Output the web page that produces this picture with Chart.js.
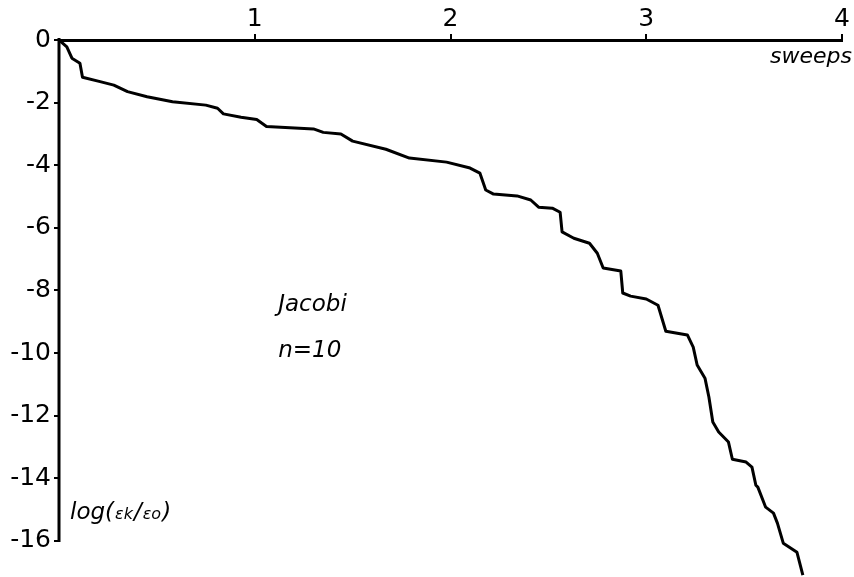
<!DOCTYPE html>
<html>
<head>
<meta charset="utf-8">
<script src="https://cdn.jsdelivr.net/npm/chart.js@4.4.1/dist/chart.umd.min.js"></script>
<style>
  html, body { margin: 0; padding: 0; background: #fff; }
  #wrap { width: 854px; height: 577px; }
</style>
</head>
<body>
<div id="wrap"><canvas id="jacobiChart"></canvas></div>
<script>
// Jacobi convergence, n = 10: log of relative error against sweeps
const sweeps = [
    0, 0.04, 0.066, 0.107, 0.12, 0.21, 0.28, 0.35, 0.45, 0.58,
    0.75, 0.81, 0.84, 0.93, 1.01, 1.06, 1.30, 1.35, 1.44, 1.50,
    1.67, 1.79, 1.98, 2.10, 2.15, 2.18, 2.22, 2.34, 2.41, 2.45,
    2.52, 2.56, 2.57, 2.63, 2.71, 2.75, 2.78, 2.87, 2.88, 2.92,
    3.00, 3.06, 3.10, 3.21, 3.24, 3.26, 3.30, 3.32, 3.34, 3.37,
    3.42, 3.44, 3.51, 3.54, 3.56, 3.57, 3.61, 3.65, 3.67, 3.70,
    3.77, 3.80
];
const logErr = [
    0, -0.22, -0.58, -0.74, -1.19, -1.33, -1.44, -1.65, -1.81, -1.97,
    -2.08, -2.18, -2.36, -2.47, -2.54, -2.76, -2.84, -2.95, -3.00, -3.23,
    -3.49, -3.77, -3.90, -4.09, -4.25, -4.79, -4.92, -4.98, -5.11, -5.34,
    -5.37, -5.50, -6.13, -6.33, -6.49, -6.81, -7.28, -7.38, -8.08, -8.18,
    -8.27, -8.47, -9.30, -9.42, -9.81, -10.38, -10.80, -11.40, -12.20, -12.52,
    -12.84, -13.39, -13.48, -13.64, -14.22, -14.28, -14.92, -15.11, -15.43, -16.07,
    -16.36, -17.09
];
const xTicks = [1, 2, 3, 4];
const yTicks = [0, -2, -4, -6, -8, -10, -12, -14, -16];

const FONT = "'DejaVu Sans', sans-serif";

// axis line on the left only runs over the labelled range, plus the text labels
const decorations = {
    id: 'decorations',
    afterDraw(chart) {
        const { ctx, chartArea, scales: { x, y } } = chart;
        ctx.save();
        ctx.strokeStyle = '#000';
        ctx.lineWidth = 3;
        ctx.beginPath();
        ctx.moveTo(chartArea.left, y.getPixelForValue(yTicks[0]) - 2);
        ctx.lineTo(chartArea.left, y.getPixelForValue(yTicks[yTicks.length - 1]) + 1);
        ctx.stroke();

        ctx.fillStyle = '#000';
        ctx.textBaseline = 'alphabetic';

        // x axis title
        ctx.font = `italic 22px ${FONT}`;
        ctx.textAlign = 'right';
        ctx.fillText('sweeps', chartArea.right + 10, y.getPixelForValue(0) + 23);

        // notes in the plot
        ctx.font = `italic 23px ${FONT}`;
        ctx.textAlign = 'left';
        ctx.fillText('Jacobi', x.getPixelForValue(1.12), y.getPixelForValue(-8.66));
        ctx.fillText('n=10', x.getPixelForValue(1.12), y.getPixelForValue(-10.13));

        // y axis title: log(εk/εo) with small subscripts
        let px = chartArea.left + 11;
        const base = y.getPixelForValue(-15.3);
        const parts = [
            ['log(', 23], ['\u03B5k', 16], ['/', 23], ['\u03B5o', 16], [')', 23]
        ];
        parts.forEach(([t, s]) => {
            ctx.font = `italic ${s}px ${FONT}`;
            ctx.fillText(t, px, base);
            px += ctx.measureText(t).width + 1;
        });
        ctx.restore();
    }
};

new Chart(document.getElementById('jacobiChart'), {
    type: 'line',
    data: {
        datasets: [{
            data: sweeps.map((s, i) => ({ x: s, y: logErr[i] })),
            borderColor: '#000',
            borderWidth: 3,
            borderJoinStyle: 'round',
            pointRadius: 0,
            tension: 0,
            fill: false
        }]
    },
    options: {
        responsive: true,
        maintainAspectRatio: false,
        animation: false,
        layout: { padding: { left: 0, right: 12, top: 0, bottom: 0 } },
        plugins: {
            legend: { display: false },
            tooltip: { enabled: false }
        },
        scales: {
            x: {
                type: 'linear',
                position: 'top',
                min: 0,
                max: 4,
                afterBuildTicks: (scale) => { scale.ticks = xTicks.map(v => ({ value: v })); },
                afterFit: (scale) => { scale.height = 40; },
                ticks: {
                    color: '#000',
                    font: { family: FONT, size: 25 },
                    padding: 0,
                    maxRotation: 0,
                    autoSkip: false
                },
                grid: {
                    drawOnChartArea: false,
                    drawTicks: true,
                    tickLength: 6,
                    color: '#000',
                    lineWidth: 2
                },
                border: { display: true, color: '#000', width: 3 }
            },
            y: {
                type: 'linear',
                min: -17.15,
                max: 0,
                afterBuildTicks: (scale) => { scale.ticks = yTicks.map(v => ({ value: v })); },
                afterFit: (scale) => {
                    scale.width = 59;
                    scale.paddingTop = 0;
                    scale.paddingBottom = 0;
                },
                ticks: {
                    color: '#000',
                    font: { family: FONT, size: 25 },
                    padding: 3,
                    autoSkip: false,
                    callback: (v) => String(v)
                },
                grid: {
                    drawOnChartArea: false,
                    drawTicks: true,
                    tickLength: 5,
                    color: '#000',
                    lineWidth: 2
                },
                border: { display: false }
            }
        }
    },
    plugins: [decorations]
});
</script>
</body>
</html>
